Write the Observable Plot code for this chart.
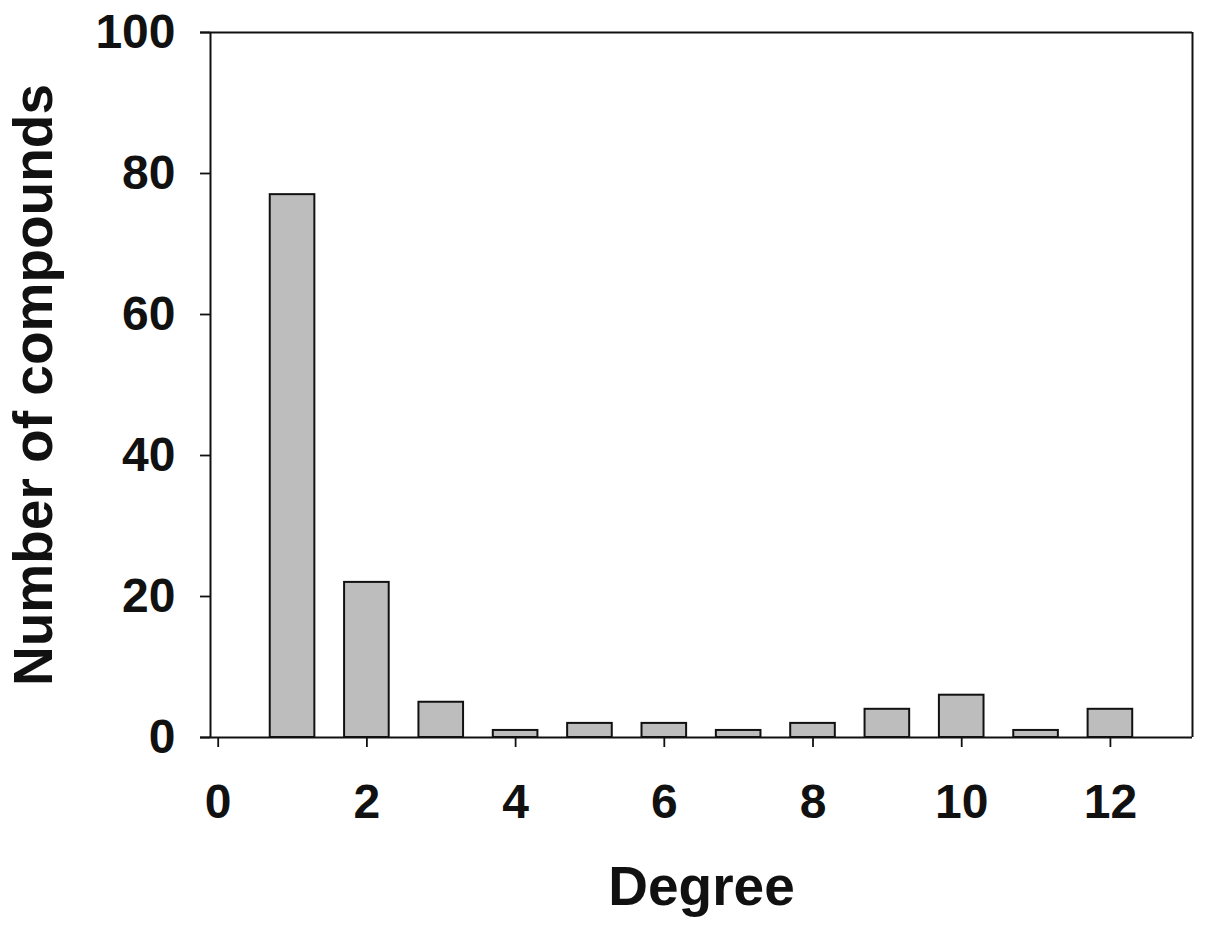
<!DOCTYPE html>
<html>
<head>
<meta charset="utf-8">
<script src="https://cdn.jsdelivr.net/npm/d3@7"></script>
<script src="https://cdn.jsdelivr.net/npm/@observablehq/plot@0.6"></script>
<style>
  body { margin: 0; background: #fff; }
  #chart svg [aria-label^="x-axis"] line,
  #chart svg [aria-label^="y-axis"] line,
  #chart svg [aria-label^="x-axis"] path,
  #chart svg [aria-label^="y-axis"] path { stroke-width: 1.8px; stroke: #111; }
</style>
</head>
<body>
<div id="chart"></div>
<script>
// Data
const degrees = [1, 2, 3, 4, 5, 6, 7, 8, 9, 10, 11, 12];
const counts  = [77, 22, 5, 1, 2, 2, 1, 2, 4, 6, 1, 4];
const xTicks = [0, 2, 4, 6, 8, 10, 12];
const yTicks = [0, 20, 40, 60, 80, 100];
const xTitle = "Degree";
const yTitle = "Number of compounds";

const xDomain = [-0.1035, 13.104];
const yDomain = [0, 100];
const lineStart = -0.238;     // horizontal frame lines overhang the y axis a little
const barHalf = 0.3;

const data = degrees.map((d, i) => ({degree: d, count: counts[i]}));
const font = "'Liberation Sans', Arial, Helvetica, sans-serif";

const chart = Plot.plot({
  width: 1205,
  height: 931,
  marginLeft: 210,
  marginRight: 13,
  marginTop: 32,
  marginBottom: 194,
  style: {fontFamily: font, fontSize: "48px", fontWeight: "bold", color: "#111", background: "#fff", overflow: "visible"},
  x: {domain: xDomain, ticks: xTicks, tickSize: 10, tickPadding: 36, tickFormat: d => String(d), label: null},
  y: {domain: yDomain, ticks: yTicks, tickSize: 10, tickPadding: 25, tickFormat: d => String(d), label: null},
  marks: [
    Plot.rectY(data, {
      x1: d => d.degree - barHalf,
      x2: d => d.degree + barHalf,
      y1: 0,
      y2: "count",
      fill: "#bdbdbd",
      stroke: "#111",
      strokeWidth: 2
    }),
    Plot.ruleY([yDomain[0], yDomain[1]], {x1: lineStart, x2: xDomain[1], stroke: "#111", strokeWidth: 2}),
    Plot.ruleX([xDomain[0], xDomain[1]], {y1: yDomain[0], y2: yDomain[1], stroke: "#111", strokeWidth: 2}),
    Plot.text([xTitle], {frameAnchor: "bottom", lineAnchor: "middle", textAnchor: "middle", dy: 150, fontSize: 55, fontWeight: "bold", fill: "#111"}),
    Plot.text([yTitle], {frameAnchor: "left", lineAnchor: "middle", textAnchor: "middle", rotate: -90, dx: -176, fontSize: 55, fontWeight: "bold", fill: "#111"})
  ]
});
document.getElementById("chart").appendChild(chart);
</script>
</body>
</html>
